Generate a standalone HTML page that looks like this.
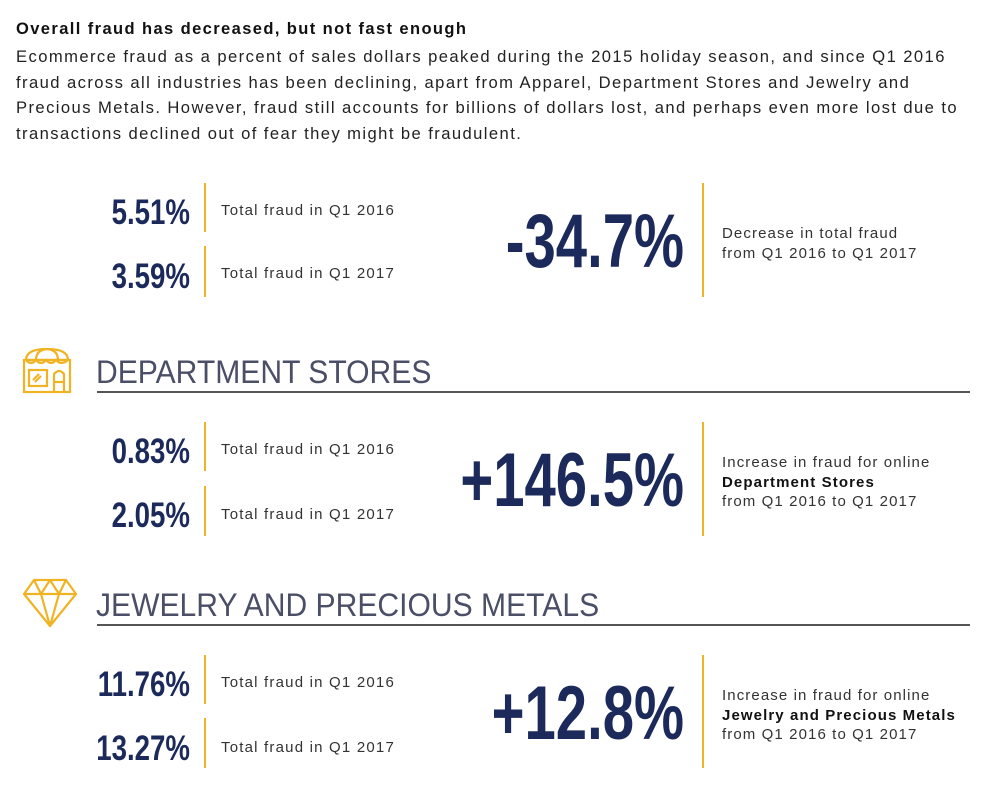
<!DOCTYPE html>
<html><head><meta charset="utf-8"><style>
body{margin:0;width:995px;height:793px;background:#fff;position:relative;overflow:hidden;font-family:"Liberation Sans",sans-serif;color:#222}
.a{position:absolute;white-space:nowrap}
.h{left:16px;top:20px;font-weight:bold;font-size:16.5px;color:#111;letter-spacing:1.4px}
.p{left:16px;top:44px;font-size:16.6px;line-height:25.6px;color:#222;letter-spacing:1.42px}
.sn{font-weight:bold;font-size:35px;color:#1b2a5a;transform:scaleX(.79);transform-origin:right top;text-align:right;width:200px;line-height:35px}
.bn{font-weight:bold;font-size:76px;color:#1b2a5a;transform:scaleX(.74);transform-origin:right top;text-align:right;width:400px;line-height:76px}
.lb{font-size:15px;color:#333;letter-spacing:1.2px}
.rt{font-size:15px;line-height:19.5px;color:#333;letter-spacing:1.1px}
.rt b{letter-spacing:1.1px}
.v{position:absolute;width:2px;background:#f0b323}
.sh{font-size:32px;color:#4a4e66;transform:scaleX(.94);transform-origin:left top;line-height:32px}
.hr{position:absolute;left:97px;width:873px;height:1.5px;background:#555}
</style></head><body>
<div class="a h">Overall fraud has decreased, but not fast enough</div>
<div class="a p">Ecommerce fraud as a percent of sales dollars peaked during the 2015 holiday season, and since Q1 2016<br>fraud across all industries has been declining, apart from Apparel, Department Stores and Jewelry and<br>Precious Metals. However, fraud still accounts for billions of dollars lost, and perhaps even more lost due to<br>transactions declined out of fear they might be fraudulent.</div>

<!-- section 1 -->
<div class="a sn" style="left:-10px;top:195px">5.51%</div>
<div class="a sn" style="left:-10px;top:259px">3.59%</div>
<div class="v" style="left:204px;top:183px;height:49px"></div>
<div class="v" style="left:204px;top:246px;height:51px"></div>
<div class="a lb" style="left:221px;top:202px">Total fraud in Q1 2016</div>
<div class="a lb" style="left:221px;top:265px">Total fraud in Q1 2017</div>
<div class="a bn" style="left:284px;top:204px">-34.7%</div>
<div class="v" style="left:702px;top:183px;height:114px"></div>
<div class="a rt" style="left:722px;top:224px">Decrease in total fraud<br>from Q1 2016 to Q1 2017</div>

<!-- section 2 -->
<svg class="a" style="left:22px;top:346px" width="50" height="48" viewBox="0 0 50 48" fill="none" stroke="#f0b323" stroke-width="2.2">
<path d="M4 14 Q4 3 25 3 Q46 3 46 14"/><path d="M4 14 h42"/>
<path d="M4 14 q5 6 10 0 q5 6 10 0 q5 6 10 0 q5 6 12 0"/>
<path d="M14 14 Q14 4 25 3 Q36 4 36 14"/>
<rect x="2" y="14" width="46" height="32"/>
<rect x="7" y="24" width="18" height="16"/>
<path d="M32 45 V28 q5 -6 10 0 V45"/><path d="M32 36 h10"/>
<path d="M11 34 l6 -6 M13 36 l6 -6"/>
</svg>
<div class="a sh" style="left:96px;top:356px">DEPARTMENT STORES</div>
<div class="hr" style="top:391px"></div>
<div class="a sn" style="left:-10px;top:434px">0.83%</div>
<div class="a sn" style="left:-10px;top:498px">2.05%</div>
<div class="v" style="left:204px;top:422px;height:49px"></div>
<div class="v" style="left:204px;top:486px;height:50px"></div>
<div class="a lb" style="left:221px;top:441px">Total fraud in Q1 2016</div>
<div class="a lb" style="left:221px;top:506px">Total fraud in Q1 2017</div>
<div class="a bn" style="left:284px;top:443px">+146.5%</div>
<div class="v" style="left:702px;top:422px;height:114px"></div>
<div class="a rt" style="left:722px;top:453px">Increase in fraud for online<br><b style="color:#111">Department Stores</b><br>from Q1 2016 to Q1 2017</div>

<!-- section 3 -->
<svg class="a" style="left:22px;top:578px" width="56" height="50" viewBox="0 0 56 50" fill="none" stroke="#f0b323" stroke-width="2.2" stroke-linejoin="round">
<path d="M12 2 H44 L54 16 L28 48 L2 16 Z"/><path d="M2 16 H54"/>
<path d="M12 2 L19 16 L28 2 L37 16 L44 2"/><path d="M19 16 L28 48 L37 16"/>
</svg>
<div class="a sh" style="left:96px;top:589px">JEWELRY AND PRECIOUS METALS</div>
<div class="hr" style="top:624px"></div>
<div class="a sn" style="left:-10px;top:667px">11.76%</div>
<div class="a sn" style="left:-10px;top:731px">13.27%</div>
<div class="v" style="left:204px;top:655px;height:49px"></div>
<div class="v" style="left:204px;top:718px;height:50px"></div>
<div class="a lb" style="left:221px;top:674px">Total fraud in Q1 2016</div>
<div class="a lb" style="left:221px;top:739px">Total fraud in Q1 2017</div>
<div class="a bn" style="left:284px;top:676px">+12.8%</div>
<div class="v" style="left:702px;top:655px;height:113px"></div>
<div class="a rt" style="left:722px;top:686px">Increase in fraud for online<br><b style="color:#111">Jewelry and Precious Metals</b><br>from Q1 2016 to Q1 2017</div>
</body></html>
